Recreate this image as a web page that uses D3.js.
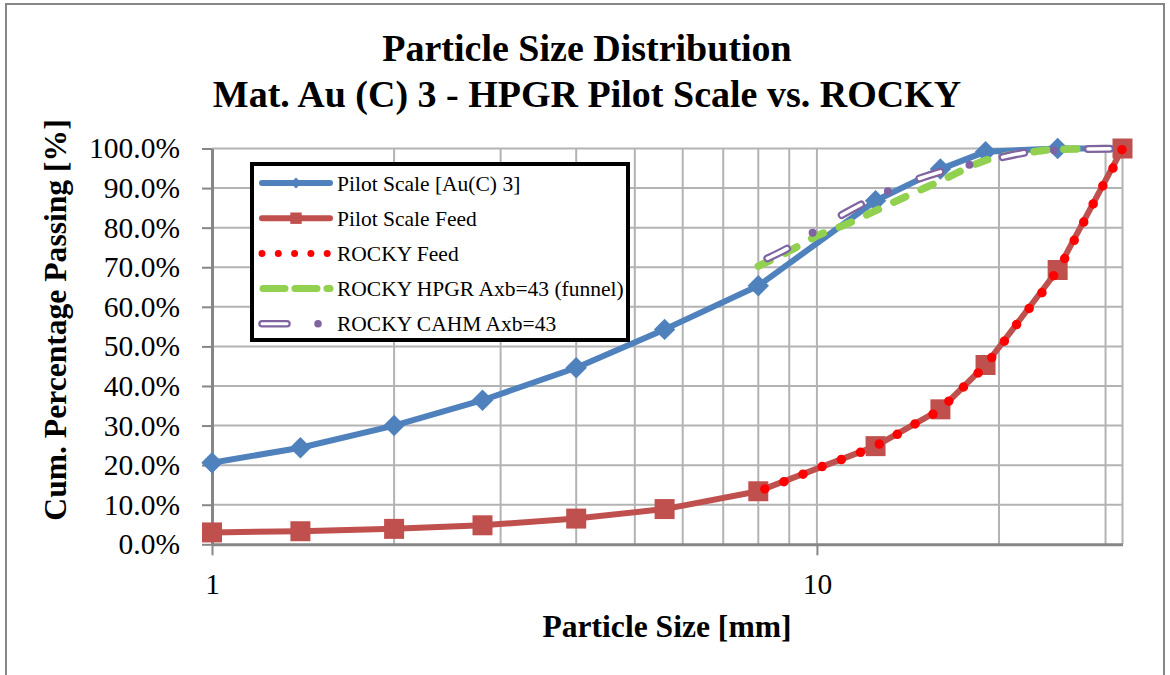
<!DOCTYPE html>
<html>
<head>
<meta charset="utf-8">
<script src="https://cdn.jsdelivr.net/npm/d3@7"></script>
<style>
  body { margin: 0; background: #fff; }
  text { font-family: "Liberation Serif", "Times New Roman", serif; fill: #000; }
</style>
</head>
<body>
<svg id="chart" width="1170" height="675"></svg>
<script>
// sieve sizes [mm] and cumulative passing [%]
var pilotSizes = [1, 1.4, 2, 2.8, 4, 5.6, 8, 12.5, 16, 19, 25, 32];
var pilotScale = [20.6, 24.4, 30.0, 36.4, 44.6, 54.3, 65.3, 86.8, 94.8, 99.2, 100, 100];
var pilotFeed  = [3.0, 3.3, 3.9, 4.8, 6.5, 8.9, 13.4, 24.8, 34.1, 45.3, 69.3, 100];

var rockyFeedSizes = [8.2, 8.85, 9.55, 10.3, 11.1, 12.0, 12.9, 13.9, 14.9, 16.0, 16.9, 18.0, 19.0,
                      20.0, 21.0, 22.1, 23.3, 24.4, 25.5, 26.5, 27.5, 28.6, 29.7, 30.9, 32];
var rockyFeed      = [14.0, 15.9, 17.9, 19.9, 21.7, 23.7, 25.9, 28.7, 31.4, 34.1, 37.7, 41.6, 45.3,
                      49.5, 53.9, 58.4, 62.6, 67.0, 71.4, 76.2, 80.9, 85.9, 90.6, 95.2, 100];

var rockySizes = [8, 9, 10, 11.2, 12.5, 14, 16, 19, 22.4, 25, 32];
var rockyHpgr  = [70.3, 74.1, 77.9, 80.9, 84.3, 87.8, 91.8, 97.0, 99.0, 99.8, 100];
var rockyCahm  = [71.2, 75.0, 79.4, 83.9, 87.7, 91.1, 94.1, 96.8, 99.1, 99.6, 100];

var yTicks = [0, 10, 20, 30, 40, 50, 60, 70, 80, 90, 100];
var xTicks = [1, 10];

var seriesNames = ['Pilot Scale [Au(C) 3]', 'Pilot Scale Feed', 'ROCKY Feed',
                   'ROCKY HPGR Axb=43 (funnel)', 'ROCKY CAHM Axb=43'];

var titleLines = ['Particle Size Distribution', 'Mat. Au (C) 3 - HPGR Pilot Scale vs. ROCKY'];

var colors = {
  blue: '#4f81bd', red: '#c0504d', feed: '#ff0000', green: '#92d050', purple: '#8064a2'
};

var svg = d3.select('#chart');

var x = d3.scaleLog().domain([1, 32]).range([212, 1122.5]),
    y = d3.scaleLinear().domain([0, 100]).range([544.3, 148.5]);

drawFrame();
drawGrid();
drawAxes();
drawSeries();
drawLegend();

// ====================================================================================
// === Frame, titles

function drawFrame () {
  svg.append('rect')
    .attr('x', 6).attr('y', 4).attr('width', 1158).attr('height', 700)
    .attr('fill', '#fff').attr('stroke', '#868686').attr('stroke-width', 2);

  svg.selectAll('.title').data(titleLines).enter().append('text')
    .attr('class', 'title')
    .attr('x', 587)
    .attr('y', function (d, i) { return 61 + i * 46; })
    .attr('text-anchor', 'middle')
    .attr('font-weight', 'bold')
    .attr('font-size', 38)
    .text(function (d) { return d; });

  svg.append('text')
    .attr('transform', 'translate(66,320) rotate(-90)')
    .attr('text-anchor', 'middle')
    .attr('font-weight', 'bold')
    .attr('font-size', 31.6)
    .text('Cum. Percentage Passing [%]');

  svg.append('text')
    .attr('x', 667).attr('y', 637)
    .attr('text-anchor', 'middle')
    .attr('font-weight', 'bold')
    .attr('font-size', 31.6)
    .text('Particle Size [mm]');
}

function drawGrid () {
  var g = svg.append('g').attr('class', 'grid')
    .attr('stroke', '#b3b3b3').attr('stroke-width', 2);

  g.selectAll('.h').data(yTicks.slice(1)).enter().append('line')
    .attr('x1', x.range()[0]).attr('x2', x.range()[1])
    .attr('y1', y).attr('y2', y);

  // log grid at 2..9, 20, 30 plus right edge
  var vx = x.ticks().filter(function (d) { return d > 1; }).concat([x.domain()[1]]);
  g.selectAll('.v').data(vx).enter().append('line')
    .attr('x1', x).attr('x2', x)
    .attr('y1', y.range()[0]).attr('y2', y.range()[1]);
}

function drawAxes () {
  var yAxis = d3.axisLeft(y).tickValues(yTicks)
    .tickFormat(function (d) { return d.toFixed(1) + '%'; })
    .tickSize(10).tickSizeOuter(0).tickPadding(22);

  var xAxis = d3.axisBottom(x).tickValues(xTicks)
    .tickFormat(d3.format('d'))
    .tickSize(11).tickSizeOuter(0).tickPadding(18);

  var ya = svg.append('g').attr('transform', 'translate(' + x.range()[0] + ',0)').call(yAxis);
  var xa = svg.append('g').attr('transform', 'translate(0,' + y.range()[0] + ')').call(xAxis);

  [ya, xa].forEach(function (a) {
    a.attr('font-family', null);
    a.select('.domain').attr('stroke', '#868686').attr('stroke-width', 3);
    a.selectAll('.tick line').attr('stroke', '#868686').attr('stroke-width', 2);
    a.selectAll('.tick text')
      .attr('font-size', 29.5).attr('fill', '#000');
  });
}

// ====================================================================================
// === Series

function pairs (xs, ys) {
  return xs.map(function (d, i) { return { x: d, y: ys[i] }; });
}

function drawSeries () {
  var straight = d3.line().x(function (d) { return x(d.x); }).y(function (d) { return y(d.y); });
  var smooth = d3.line().curve(d3.curveMonotoneX)
    .x(function (d) { return x(d.x); }).y(function (d) { return y(d.y); });

  var blue = pairs(pilotSizes, pilotScale),
      red = pairs(pilotSizes, pilotFeed),
      feed = pairs(rockyFeedSizes, rockyFeed),
      hpgr = pairs(rockySizes, rockyHpgr),
      cahm = pairs(rockySizes, rockyCahm);

  var g = svg.append('g').attr('fill', 'none').attr('stroke-linejoin', 'round');

  // Pilot Scale [Au(C) 3]
  g.append('path').attr('d', straight(blue))
    .attr('stroke', colors.blue).attr('stroke-width', 6);
  g.selectAll('.dia').data(blue.slice(0, blue.length - 1)).enter().append('path')
    .attr('d', d3.symbol(d3.symbolSquare, 230))
    .attr('transform', function (d) { return 'translate(' + x(d.x) + ',' + y(d.y) + ') rotate(45)'; })
    .attr('fill', colors.blue);

  // Pilot Scale Feed
  g.append('path').attr('d', straight(red))
    .attr('stroke', colors.red).attr('stroke-width', 6);
  g.selectAll('.sq').data(red).enter().append('path')
    .attr('d', d3.symbol(d3.symbolSquare, 400))
    .attr('transform', function (d) { return 'translate(' + x(d.x) + ',' + y(d.y) + ')'; })
    .attr('fill', colors.red);

  // ROCKY Feed - round dots
  g.append('path').attr('d', smooth(feed))
    .attr('stroke', colors.feed).attr('stroke-width', 9.5)
    .attr('stroke-linecap', 'round').attr('stroke-dasharray', '0 20.5');

  // ROCKY HPGR - dashed
  g.append('path').attr('d', smooth(hpgr))
    .attr('stroke', colors.green).attr('stroke-width', 7.5)
    .attr('stroke-linecap', 'round').attr('stroke-dasharray', '13 17');

  // ROCKY CAHM - hollow dash + dot
  g.append('path').attr('d', smooth(cahm))
    .attr('stroke', colors.purple).attr('stroke-width', 8)
    .attr('stroke-linecap', 'round').attr('stroke-dasharray', '22 30 0 34')
    .attr('stroke-dashoffset', -10);
  g.append('path').attr('d', smooth(cahm))
    .attr('stroke', '#fff').attr('stroke-width', 3.5)
    .attr('stroke-linecap', 'round').attr('stroke-dasharray', '22 64')
    .attr('stroke-dashoffset', -10);
}

// ====================================================================================
// === Legend

function drawLegend () {
  var lg = svg.append('g').attr('class', 'legend');

  lg.append('rect')
    .attr('x', 252).attr('y', 164).attr('width', 376).attr('height', 176)
    .attr('fill', '#fff').attr('stroke', '#000').attr('stroke-width', 4);

  var rows = lg.selectAll('.row').data(seriesNames).enter().append('g')
    .attr('transform', function (d, i) { return 'translate(0,' + (183 + i * 35.2) + ')'; });

  rows.append('text')
    .attr('x', 337).attr('dy', '0.35em')
    .attr('font-size', 21.5)
    .text(function (d) { return d; });

  var r = rows.nodes().map(function (n) { return d3.select(n); });

  r[0].append('line').attr('x1', 262).attr('x2', 330)
    .attr('stroke', colors.blue).attr('stroke-width', 6).attr('stroke-linecap', 'round');
  r[0].append('path').attr('d', d3.symbol(d3.symbolSquare, 60))
    .attr('transform', 'translate(296,0) rotate(45)').attr('fill', colors.blue);

  r[1].append('line').attr('x1', 262).attr('x2', 330)
    .attr('stroke', colors.red).attr('stroke-width', 6).attr('stroke-linecap', 'round');
  r[1].append('path').attr('d', d3.symbol(d3.symbolSquare, 130))
    .attr('transform', 'translate(296,0)').attr('fill', colors.red);

  r[2].append('line').attr('x1', 262).attr('x2', 330)
    .attr('stroke', colors.feed).attr('stroke-width', 7)
    .attr('stroke-linecap', 'round').attr('stroke-dasharray', '0 16.3');

  r[3].append('line').attr('x1', 263).attr('x2', 330)
    .attr('stroke', colors.green).attr('stroke-width', 7)
    .attr('stroke-linecap', 'round').attr('stroke-dasharray', '22 10');

  r[4].append('line').attr('x1', 262).attr('x2', 330)
    .attr('stroke', colors.purple).attr('stroke-width', 7.5)
    .attr('stroke-linecap', 'round').attr('stroke-dasharray', '25 31 0 40');
  r[4].append('line').attr('x1', 262).attr('x2', 330)
    .attr('stroke', '#fff').attr('stroke-width', 3)
    .attr('stroke-linecap', 'round').attr('stroke-dasharray', '25 80');
}
</script>
</body>
</html>
